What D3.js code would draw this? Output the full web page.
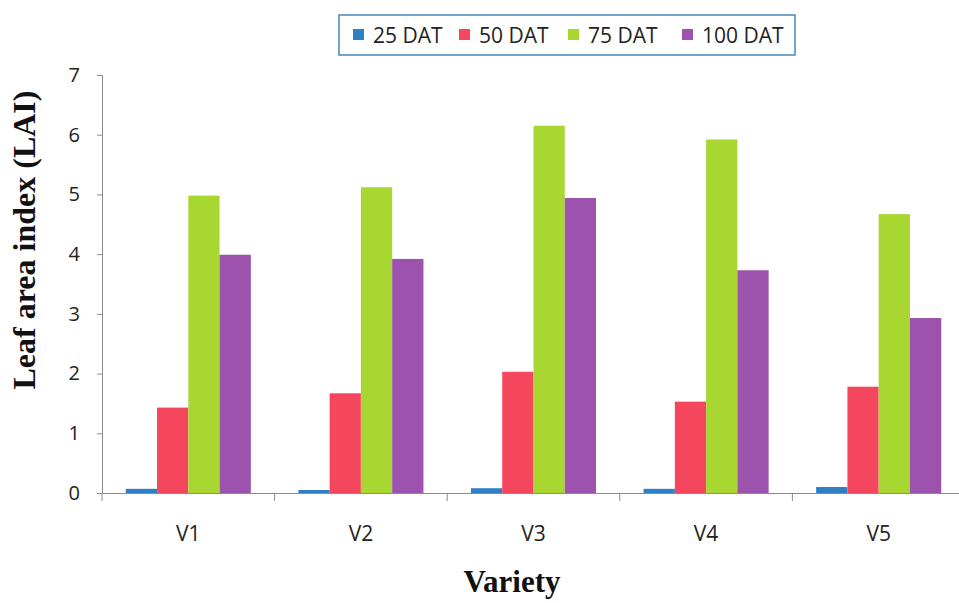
<!DOCTYPE html>
<html><head><meta charset="utf-8">
<script src="https://cdn.jsdelivr.net/npm/d3@7"></script>
<style>body{margin:0;background:#fff}svg{display:block}</style>
</head><body>
<svg id="c" width="959" height="603"></svg>
<script>
const categories = ["V1","V2","V3","V4","V5"];
const seriesNames = ["25 DAT","50 DAT","75 DAT","100 DAT"];
const dat25  = [0.07,0.05,0.08,0.07,0.10];
const dat50  = [1.43,1.67,2.03,1.53,1.78];
const dat75  = [4.98,5.12,6.15,5.92,4.67];
const dat100 = [3.99,3.92,4.94,3.73,2.93];
const yTicks = [0,1,2,3,4,5,6,7];
const colors = ["#2f7fc6","#f4475e","#a9d732","#9d52ad"];

const series = [dat25,dat50,dat75,dat100];
const svg = d3.select("#c");
const m = {l:102, r:965, t:75, b:493};
const x = d3.scaleBand().domain(categories).range([m.l,m.r]).paddingInner(0).paddingOuter(0);
const x1 = d3.scaleBand().domain(seriesNames).range([0,x.bandwidth()]).paddingInner(0).paddingOuter(0.76);
const y = d3.scaleLinear().domain([0,7]).range([m.b,m.t]);

// bars
categories.forEach((c,i)=>{
  seriesNames.forEach((s,j)=>{
    svg.append("rect")
      .attr("x", x(c)+x1(s))
      .attr("y", y(series[j][i]))
      .attr("width", x1.bandwidth())
      .attr("height", y(0)-y(series[j][i]))
      .attr("fill", colors[j]);
  });
});

// y axis
const ya = svg.append("g").attr("transform",`translate(${m.l},0)`)
  .call(d3.axisLeft(y).tickValues(yTicks).tickSize(5).tickPadding(17).tickFormat(d3.format("d")));
ya.select(".domain").attr("stroke","#8c8c8c");
ya.selectAll(".tick line").attr("stroke","#8c8c8c");
ya.selectAll("text").attr("font-family","'Open Sans', sans-serif").attr("font-size",20).attr("fill","#222");

// x axis
const xa = svg.append("g").attr("transform",`translate(0,${m.b})`)
  .call(d3.axisBottom(x).tickSize(0).tickPadding(33));
xa.select(".domain").attr("stroke","#8c8c8c");
xa.selectAll("text").attr("font-family","'Open Sans', sans-serif").attr("font-size",21).attr("fill","#222");
// category separator ticks
svg.selectAll(".sep").data(d3.range(categories.length+1)).enter().append("line")
  .attr("x1",d=>m.l+d*x.step()).attr("x2",d=>m.l+d*x.step())
  .attr("y1",m.b).attr("y2",m.b+8).attr("stroke","#8c8c8c");

// axis titles
svg.append("text").attr("transform","translate(35,240) rotate(-90)")
  .attr("text-anchor","middle").attr("font-family","'Liberation Serif', 'DejaVu Serif', serif")
  .attr("font-weight","bold").attr("font-size",32).attr("fill","#111").text("Leaf area index (LAI)");
svg.append("text").attr("x",512).attr("y",592)
  .attr("text-anchor","middle").attr("font-family","'Liberation Serif', 'DejaVu Serif', serif")
  .attr("font-weight","bold").attr("font-size",31).attr("fill","#111").text("Variety");

// legend
const lg = svg.append("g");
lg.append("rect").attr("x",339).attr("y",15).attr("width",456).attr("height",40)
  .attr("fill","#fff").attr("stroke","#4a86b8").attr("stroke-width",1.5);
const lx = [353,459,568,682];
seriesNames.forEach((s,j)=>{
  lg.append("rect").attr("x",lx[j]).attr("y",29).attr("width",11).attr("height",11).attr("fill",colors[j]);
  lg.append("text").attr("x",lx[j]+20).attr("y",43).attr("font-family","'Open Sans', sans-serif")
    .attr("font-size",21).attr("fill","#222").text(s);
});
</script>
</body></html>
